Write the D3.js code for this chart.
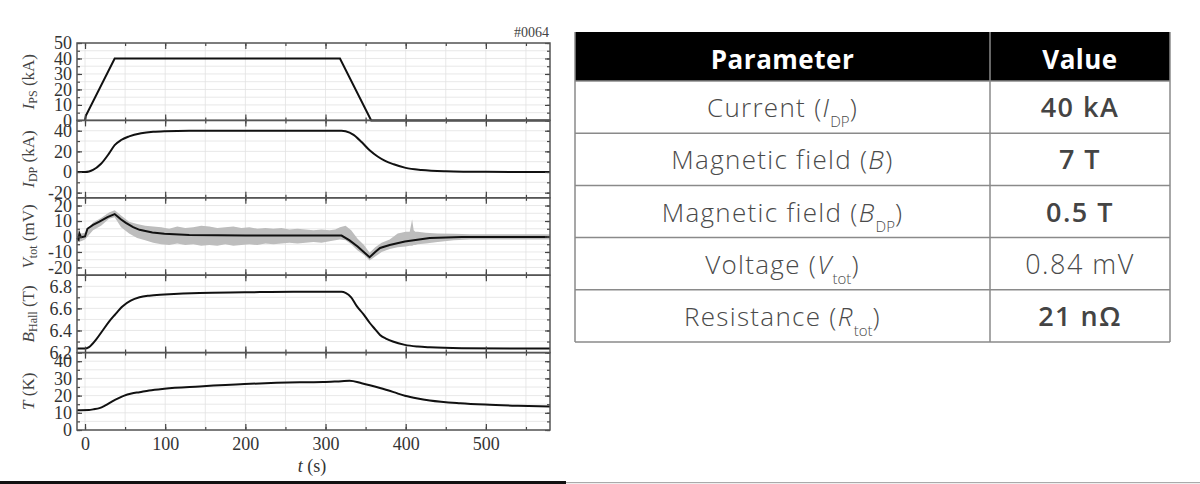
<!DOCTYPE html>
<html>
<head>
<meta charset="utf-8">
<script src="https://cdn.jsdelivr.net/npm/d3@7"></script>
<style>
  body { margin: 0; background: #fff; }
  svg { display: block; }
</style>
</head>
<body>
<div id="chart"></div>
<script>
/* Data (t in s) */
const ipsT = [0, 1, 37, 318, 357, 580];
const ipsV = [0, 3, 40, 40, 0, 0];

const idpT = [-10, 0, 5, 10, 20, 30, 37, 45, 55, 70, 85, 100, 130, 200, 320, 325, 335, 345, 355, 365, 375, 385, 400, 420, 450, 500, 580];
const idpV = [0, 0, 0.5, 2, 8, 18, 26, 31, 34.5, 37.5, 39, 39.6, 40, 40, 40, 39.5, 36, 29, 21, 15, 10.5, 7.5, 4, 2, 0.8, 0.2, 0];

const vT = [-10, -8, -7, -5, 0, 3, 10, 18, 28, 37, 45, 51, 60, 68, 84, 99, 130, 200, 250, 300, 320, 330, 340, 355, 362, 368, 380, 399, 430, 470, 520, 580];
const vV = [-1, -2, 2, -0.5, 0, 5, 7.5, 9.6, 12.5, 14.5, 11, 8.8, 6, 4.3, 2.6, 1.7, 1, 0.7, 0.6, 0.7, 0.6, -2.5, -6.5, -13.4, -10, -7.4, -5.5, -3.2, -1, -0.4, -0.3, -0.4];

const vBandT = [-10, -5, 0, 10, 20, 30, 37, 45, 55, 65, 75, 85, 95, 105, 115, 125, 135, 145, 155, 165, 175, 185, 195, 205, 215, 225, 235, 245, 255, 265, 275, 285, 295, 305, 312, 318, 325, 332, 340, 348, 355, 362, 370, 380, 390, 400, 405, 408, 410, 412, 415, 425, 440, 460, 480, 500, 530, 560, 580];
const vUpper = [2, 2, 2.5, 9, 12, 15.5, 17, 13.5, 9.5, 8, 7, 6.5, 6, 5, 6.5, 5.5, 6, 7, 6.5, 5.5, 6, 6.5, 5.5, 6, 5, 5.5, 5, 5.5, 4.5, 5, 4.5, 4, 4.5, 4, 4.5, 6, 7, 4, -1.5, -5.5, -10.5, -7, -4, -2, 2, 3, 3, 11, 4, 3, 3, 2.5, 2, 1.8, 1.5, 1.5, 1.5, 1.5, 1.5];
const vLower = [-3.5, -3, -2, 4, 7, 11.5, 12.5, 6, 2, -1, -2.5, -4, -5, -5.5, -4.5, -5.5, -5, -6, -5.5, -6, -5, -6, -5.5, -5, -5.5, -4.5, -5, -4.5, -4, -4.5, -4, -3.5, -4, -3, -2.5, -2, -2.5, -5, -9, -12, -15.5, -13, -10, -8, -7, -6.5, -6, -6, -5.5, -5.5, -5, -4.5, -3.5, -2.5, -2, -2, -2, -2, -2];

const bT = [-10, 0, 5, 14, 22, 30, 37, 47, 57, 68, 80, 99, 143, 199, 260, 320, 325, 332, 339, 347, 355, 362, 368, 376, 384, 399, 415, 430, 470, 580];
const bV = [6.236, 6.236, 6.25, 6.32, 6.4, 6.48, 6.54, 6.62, 6.67, 6.70, 6.715, 6.725, 6.74, 6.745, 6.75, 6.75, 6.74, 6.70, 6.62, 6.55, 6.47, 6.41, 6.36, 6.325, 6.30, 6.27, 6.255, 6.248, 6.24, 6.236];

const tempT = [-10, 5, 10, 18, 26, 34, 42, 49, 58, 68, 80, 99, 143, 199, 268, 297, 320, 330, 345, 368, 385, 399, 415, 430, 468, 499, 540, 580];
const tempV = [11.5, 11.6, 12, 12.7, 14.5, 16.6, 18.5, 20, 21.2, 22, 23, 24, 25.3, 26.7, 27.7, 27.9, 28.4, 28.6, 27.2, 24.4, 22, 19.9, 18.3, 17.2, 15.6, 14.8, 14.1, 13.6];

const timeLabels = [0, 100, 200, 300, 400, 500];
const timeMinor = [0, 50, 100, 150, 200, 250, 300, 350, 400, 450, 500, 550];

/* Table contents */
const paramNames = ["Current (", "Magnetic field (", "Magnetic field (", "Voltage (", "Resistance ("];
const paramSymbols = ["I", "B", "B", "V", "R"];
const paramSubs = ["DP", "", "DP", "tot", "tot"];
const paramValues = ["40 kA", "7 T", "0.5 T", "0.84 mV", "21 nΩ"];
const valueBold = [true, true, true, false, true];

/* Layout */
const W = 1200, H = 484;
const plot = { left: 77, right: 550, top: 43, bottom: 430 };
const nPanels = 5;
const panelH = (plot.bottom - plot.top) / nPanels;

const svg = d3.select("#chart").append("svg")
    .attr("width", W)
    .attr("height", H);

const x = d3.scaleLinear().domain([-10, 580]).range([plot.left, plot.right]);

const panels = [
    { t: ipsT, v: ipsV, domain: [0, 50], major: [0, 10, 20, 30, 40, 50], minor: d3.range(0, 51, 5), fmt: d => d, sym: "I", sub: "PS", unit: " (kA)", curve: d3.curveLinear },
    { t: idpT, v: idpV, domain: [-25, 50], major: [-20, 0, 20, 40], minor: d3.range(-20, 41, 10), fmt: d => d, sym: "I", sub: "DP", unit: " (kA)", curve: d3.curveMonotoneX },
    { t: vT, v: vV, domain: [-25, 25], major: [-20, -10, 0, 10, 20], minor: d3.range(-20, 21, 5), fmt: d => d, sym: "V", sub: "tot", unit: " (mV)", curve: d3.curveLinear, band: true },
    { t: bT, v: bV, domain: [6.2, 6.9], major: [6.2, 6.4, 6.6, 6.8], minor: [6.2, 6.3, 6.4, 6.5, 6.6, 6.7, 6.8], fmt: d3.format(".1f"), sym: "B", sub: "Hall", unit: " (T)", curve: d3.curveMonotoneX },
    { t: tempT, v: tempV, domain: [0, 45], major: [0, 10, 20, 30, 40], minor: d3.range(0, 41, 5), fmt: d => d, sym: "T", sub: "", unit: " (K)", curve: d3.curveMonotoneX }
];

const serif = "'Liberation Serif', 'DejaVu Serif', serif";

panels.forEach((p, i) => {
    const top = plot.top + i * panelH;
    const bottom = top + panelH;
    const y = d3.scaleLinear().domain(p.domain).range([bottom, top]);
    const g = svg.append("g");

    /* gridlines */
    g.append("g")
      .selectAll("line.h")
      .data(p.minor)
      .join("line")
        .attr("x1", plot.left).attr("x2", plot.right)
        .attr("y1", d => y(d)).attr("y2", d => y(d))
        .style("stroke", "#e2e2e2").style("stroke-width", 0.8);
    g.append("g")
      .selectAll("line.v")
      .data(timeMinor)
      .join("line")
        .attr("x1", d => x(d)).attr("x2", d => x(d))
        .attr("y1", top).attr("y2", bottom)
        .style("stroke", "#e2e2e2").style("stroke-width", 0.8);

    /* noise band */
    if (p.band) {
        const bandData = vBandT.map((t, k) => ({ t, hi: vUpper[k], lo: vLower[k] }));
        g.append("path")
          .datum(bandData)
          .attr("d", d3.area().x(d => x(d.t)).y0(d => y(d.lo)).y1(d => y(d.hi)))
          .style("fill", "#bdbdbd");
    }

    /* data line */
    const pts = p.t.map((t, k) => ({ t, v: p.v[k] }));
    g.append("path")
      .datum(pts)
      .attr("d", d3.line().x(d => x(d.t)).y(d => y(d.v)).curve(p.curve))
      .style("fill", "none")
      .style("stroke", "#111")
      .style("stroke-width", 2);

    /* y axes, ticks inward */
    const yl = g.append("g").attr("transform", `translate(${plot.left},0)`)
        .call(d3.axisLeft(y).tickValues(p.major).tickSize(-5).tickPadding(5).tickFormat(p.fmt));
    yl.append("g").call(d3.axisLeft(y).tickValues(p.minor).tickSize(-3).tickFormat(""));
    g.append("g").attr("transform", `translate(${plot.right},0)`)
        .call(d3.axisRight(y).tickValues(p.major).tickSize(-5).tickFormat(""))
      .append("g").call(d3.axisRight(y).tickValues(p.minor).tickSize(-3).tickFormat(""));

    /* x ticks on top and bottom edges, inward */
    g.append("g").attr("transform", `translate(0,${top})`)
        .call(d3.axisTop(x).tickValues(timeLabels).tickSize(-6).tickFormat(""))
      .append("g").call(d3.axisTop(x).tickValues(timeMinor).tickSize(-3).tickFormat(""));
    g.append("g").attr("transform", `translate(0,${bottom})`)
        .call(d3.axisBottom(x).tickValues(timeLabels).tickSize(-6).tickFormat(""))
      .append("g").call(d3.axisBottom(x).tickValues(timeMinor).tickSize(-3).tickFormat(""));

    g.selectAll(".domain").remove();
    g.selectAll(".tick line").style("stroke", "#444").style("stroke-width", 1.2);
    g.selectAll(".tick text")
        .style("font-family", serif).style("font-size", "18px").style("fill", "#333");

    /* frame */
    g.append("rect")
        .attr("x", plot.left).attr("y", top)
        .attr("width", plot.right - plot.left).attr("height", panelH)
        .style("fill", "none").style("stroke", "#555").style("stroke-width", 1.5);

    /* y label */
    const lab = g.append("text")
        .attr("transform", `translate(34,${(top + bottom) / 2}) rotate(-90)`)
        .attr("text-anchor", "middle")
        .style("font-family", serif).style("font-size", "17px").style("fill", "#444");
    lab.append("tspan").style("font-style", "italic").text(p.sym);
    if (p.sub) lab.append("tspan").attr("dy", 3).style("font-size", "12px").text(p.sub);
    lab.append("tspan").attr("dy", p.sub ? -3 : 0).text(p.unit);
});

/* time tick labels */
svg.append("g").attr("transform", `translate(0,${plot.bottom})`)
    .call(d3.axisBottom(x).tickValues(timeLabels).tickSize(0).tickPadding(7))
    .call(a => a.select(".domain").remove())
    .selectAll("text")
      .style("font-family", serif).style("font-size", "18px").style("fill", "#333");

const xl = svg.append("text")
    .attr("x", 312).attr("y", 472)
    .attr("text-anchor", "middle")
    .style("font-family", serif).style("font-size", "18px").style("fill", "#333");
xl.append("tspan").style("font-style", "italic").text("t");
xl.append("tspan").text(" (s)");

svg.append("text")
    .attr("x", 549).attr("y", 37)
    .attr("text-anchor", "end")
    .style("font-family", serif).style("font-size", "14px").style("fill", "#444")
    .text("#0064");

/* bottom rule */
svg.append("rect").attr("x", 0).attr("y", 481).attr("width", 566).attr("height", 3).style("fill", "#111");
svg.append("rect").attr("x", 566).attr("y", 482).attr("width", W - 566).attr("height", 1.2).style("fill", "#aaa");

/* Table */
const tb = { left: 575, mid: 990, right: 1170, top: 32, headBottom: 81, bottom: 342 };
const rowH = (tb.bottom - tb.headBottom) / paramNames.length;
const sans = "'Open Sans', Lato, sans-serif";
const tg = svg.append("g");

tg.append("rect")
    .attr("x", tb.left).attr("y", tb.top)
    .attr("width", tb.right - tb.left).attr("height", tb.headBottom - tb.top)
    .style("fill", "#000");

const rowsY = d3.range(paramNames.length + 1).map(k => tb.headBottom + k * rowH);
tg.selectAll("line.row")
  .data(rowsY)
  .join("line")
    .attr("x1", tb.left).attr("x2", tb.right)
    .attr("y1", d => d).attr("y2", d => d)
    .style("stroke", "#8a8a8a").style("stroke-width", 1.5);
tg.selectAll("line.col")
  .data([tb.left, tb.mid, tb.right])
  .join("line")
    .attr("x1", d => d).attr("x2", d => d)
    .attr("y1", tb.top).attr("y2", tb.bottom)
    .style("stroke", "#8a8a8a").style("stroke-width", 1.5);

const colC = [(tb.left + tb.mid) / 2, (tb.mid + tb.right) / 2];
["Parameter", "Value"].forEach((h, k) => {
    tg.append("text")
        .attr("x", colC[k]).attr("y", 69)
        .attr("text-anchor", "middle")
        .style("font-family", sans).style("font-size", "26px").style("font-weight", "bold")
        .style("letter-spacing", "0.5px")
        .style("fill", "#fff")
        .text(h);
});

paramNames.forEach((name, k) => {
    const base = tb.headBottom + k * rowH + rowH / 2 + 10;
    const t = tg.append("text")
        .attr("x", colC[0]).attr("y", base)
        .attr("text-anchor", "middle")
        .style("font-family", sans).style("font-size", "26px").style("font-weight", 300)
        .style("letter-spacing", "1.3px")
        .style("fill", "#4a4a4a");
    t.append("tspan").text(name);
    t.append("tspan").style("font-style", "italic").text(paramSymbols[k]);
    if (paramSubs[k]) {
        t.append("tspan").attr("dy", 10).style("font-size", "15px").style("letter-spacing", "0px").text(paramSubs[k]);
        t.append("tspan").attr("dy", -10).text(")");
    } else {
        t.append("tspan").text(")");
    }
    tg.append("text")
        .attr("x", colC[1]).attr("y", base)
        .attr("text-anchor", "middle")
        .style("font-family", sans).style("font-size", "27px")
        .style("font-weight", valueBold[k] ? 600 : 300)
        .style("letter-spacing", "1.5px")
        .style("fill", valueBold[k] ? "#444" : "#4a4a4a")
        .text(paramValues[k]);
});
</script>
</body>
</html>
